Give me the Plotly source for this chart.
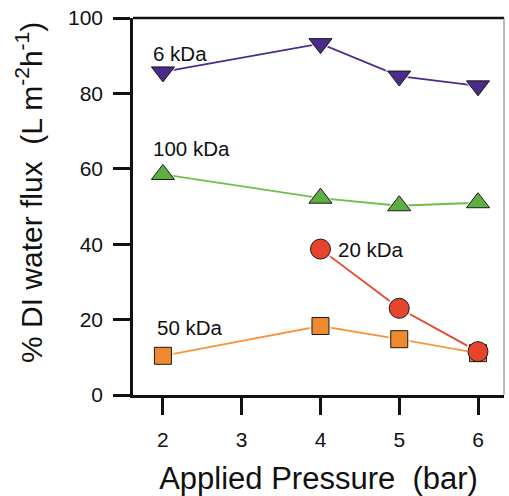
import plotly.graph_objects as go

pressure = [2, 4, 5, 6]
flux_6kda = [85.7, 93.2, 84.6, 82.0]
flux_100kda = [58.5, 52.2, 50.2, 51.0]
pressure_20kda = [4, 5, 6]
flux_20kda = [38.7, 23.0, 11.5]
flux_50kda = [10.4, 18.3, 14.8, 11.1]
x_ticks = [2, 3, 4, 5, 6]
y_ticks = [0, 20, 40, 60, 80, 100]

FONT = "Liberation Sans, Arial, Helvetica, sans-serif"

series = [
    # name, x, y, symbol, size, fill, line colour, halo sizes
    ("6 kDa", pressure, flux_6kda, "triangle-down", 20, "#4B2A88", "#4B2C8A", None),
    ("100 kDa", pressure, flux_100kda, "triangle-up", 20, "#5CAF40", "#6CC04A", None),
    ("50 kDa", pressure, flux_50kda, "square", 17, "#F08A2E", "#F7963F", None),
    ("20 kDa", pressure_20kda, flux_20kda, "circle", 20, "#E8432B", "#E8432B", [25, 25, 0]),
]

fig = go.Figure()
# lines
for name, xs, ys, sym, sz, fill, lc, halo in series:
    fig.add_trace(go.Scatter(x=xs, y=ys, mode="lines",
                             line=dict(color=lc, width=1.8),
                             showlegend=False, hoverinfo="skip"))
# halos + markers
for name, xs, ys, sym, sz, fill, lc, halo in series:
    hs = halo if halo is not None else [sz + 5] * len(xs)
    fig.add_trace(go.Scatter(x=xs, y=ys, mode="markers",
                             marker=dict(symbol=sym, size=hs, color="white",
                                         line=dict(width=0)),
                             showlegend=False, hoverinfo="skip"))
    fig.add_trace(go.Scatter(x=xs, y=ys, mode="markers", name=name,
                             marker=dict(symbol=sym, size=sz, color=fill,
                                         line=dict(color="#1a1a1a", width=1)),
                             showlegend=False))

labels = [
    ("6 kDa", 1.87, 90.7),
    ("100 kDa", 1.87, 65.5),
    ("20 kDa", 4.22, 38.7),
    ("50 kDa", 1.92, 17.8),
]
for txt, x, y in labels:
    fig.add_annotation(x=x, y=y, text=txt, showarrow=False, xanchor="left",
                       yanchor="middle", xshift=-2,
                       font=dict(family=FONT, size=20.5, color="#111"))

# y-axis title
fig.add_annotation(xref="paper", yref="paper", x=-0.280, y=0.536,
                   text="% DI water flux  (L m<sup>-2</sup>h<sup>-1</sup>)",
                   textangle=-90, showarrow=False, xanchor="center", yanchor="middle",
                   font=dict(family=FONT, size=30, color="#111"))

fig.update_layout(
    width=509, height=496,
    margin=dict(l=133, r=5, t=18, b=101, autoexpand=False),
    paper_bgcolor="white", plot_bgcolor="white",
    font=dict(family=FONT, color="#111"),
    xaxis=dict(range=[1.62, 6.33], tickvals=x_ticks, ticktext=[str(v) for v in x_ticks],
               ticks="outside", ticklen=17, tickwidth=2.5, tickcolor="#111",
               showline=True, linewidth=2.5, linecolor="#111",
               showgrid=False, zeroline=False,
               tickfont=dict(size=21), ticklabelstandoff=7, ticklabeloverflow="allow",
               title=dict(text="Applied Pressure  (bar)", font=dict(size=31), standoff=18)),
    yaxis=dict(range=[0, 100], tickvals=y_ticks, ticktext=[str(v) for v in y_ticks],
               ticks="outside", ticklen=17, tickwidth=2.5, tickcolor="#111",
               showline=True, linewidth=2.5, linecolor="#111",
               showgrid=False, zeroline=False,
               tickfont=dict(size=21), ticklabelstandoff=6, ticklabeloverflow="allow"),
    shapes=[
        dict(type="line", xref="paper", yref="paper", x0=0, x1=1, y0=1, y1=1,
             line=dict(color="#111", width=2.5)),
        dict(type="line", xref="paper", yref="paper", x0=1, x1=1, y0=0, y1=1,
             line=dict(color="#777", width=1)),
    ],
)

fig.write_html("out.html", config={"displayModeBar": False},
               post_script="document.body.style.margin='0px';")
